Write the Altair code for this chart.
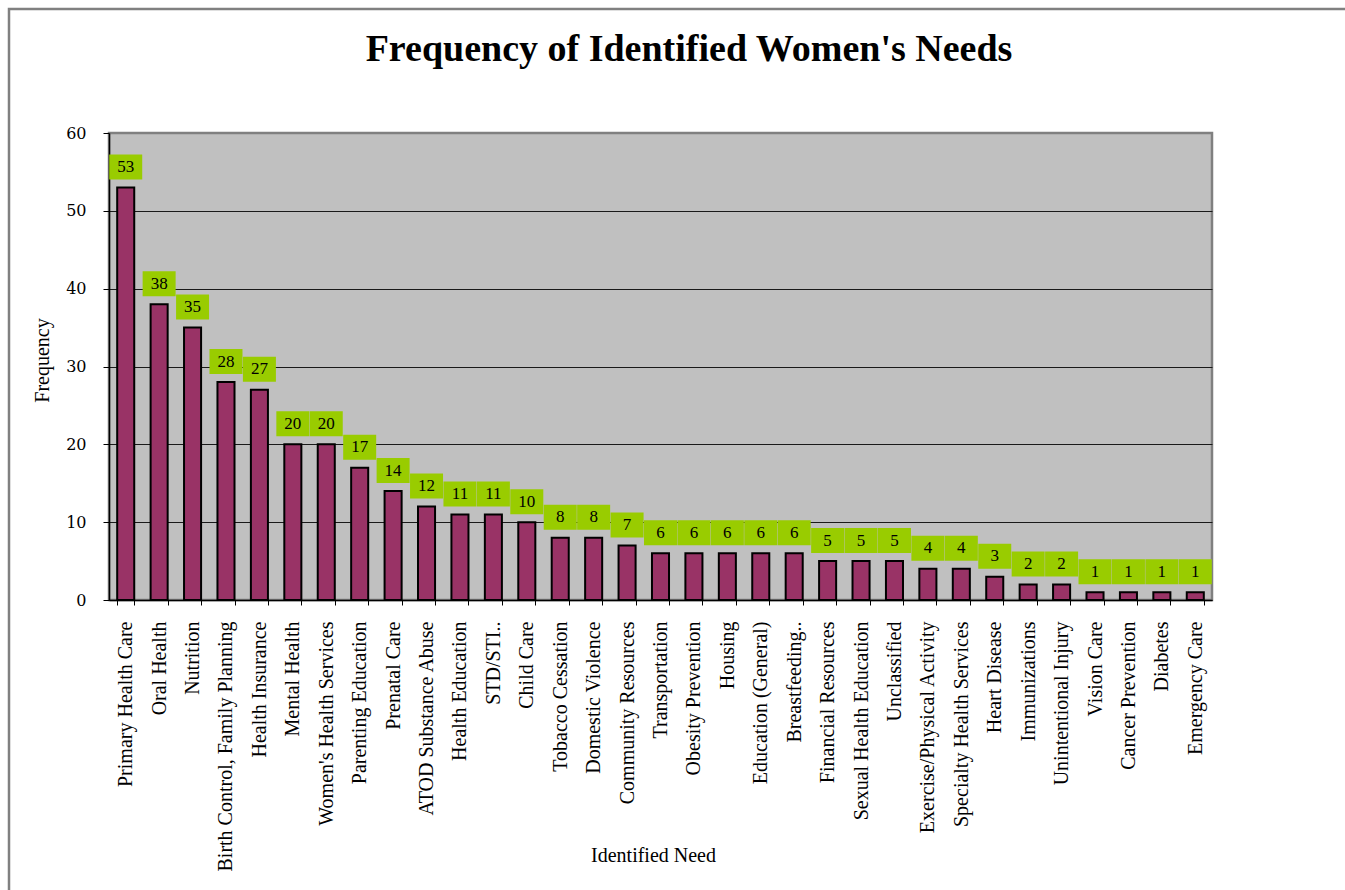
import altair as alt
import pandas as pd

# Identified needs and how often each was reported
needs = [
    "Primary Health Care", "Oral Health", "Nutrition", "Birth Control, Family Planning",
    "Health Insurance", "Mental Health", "Women's Health Services", "Parenting Education",
    "Prenatal Care", "ATOD Substance Abuse", "Health Education", "STD/STI..",
    "Child Care", "Tobacco Cessation", "Domestic Violence", "Community Resources",
    "Transportation", "Obesity Prevention", "Housing", "Education (General)",
    "Breastfeeding..", "Financial Resources", "Sexual Health Education", "Unclassified",
    "Exercise/Physical Activity", "Specialty Health Services", "Heart Disease",
    "Immunizations", "Unintentional Injury", "Vision Care", "Cancer Prevention",
    "Diabetes", "Emergency Care",
]
counts = [53, 38, 35, 28, 27, 20, 20, 17, 14, 12, 11, 11, 10, 8, 8, 7, 6, 6, 6, 6,
          6, 5, 5, 5, 4, 4, 3, 2, 2, 1, 1, 1, 1]
y_ticks = [0, 10, 20, 30, 40, 50, 60]
chart_title = "Frequency of Identified Women's Needs"

FONT = "Liberation Serif"
NUM_FONT = "DejaVu Serif"
W, H = 1103, 467

df = pd.DataFrame({"need": needs, "count": counts})

x_enc = alt.X(
    "need:N",
    sort=None,
    scale=alt.Scale(paddingInner=0.49, paddingOuter=0.245),
    axis=alt.Axis(
        title="Identified Need",
        titleFont=FONT, titleFontSize=20, titleFontWeight="normal", titleColor="black",
        titleX=544, titleY=261, titleAlign="center", titleBaseline="alphabetic",
        labelAngle=-90, labelFont=FONT, labelFontSize=20, labelColor="black",
        labelPadding=16, labelLimit=400,
        tickBand="extent", tickSize=5, tickColor="black", tickWidth=1,
        domainColor="black", domainWidth=1.5, grid=False,
    ),
)
y_scale = alt.Scale(domain=[0, 60], nice=False)

bars = alt.Chart(df).mark_bar(
    color="#993366", stroke="black", strokeWidth=2
).encode(
    x=x_enc,
    y=alt.Y(
        "count:Q",
        scale=y_scale,
        axis=alt.Axis(
            values=y_ticks, title="Frequency",
            titleFont=FONT, titleFontSize=20, titleFontWeight="normal", titleColor="black",
            titleX=-67, titleY=227, titleAngle=-90, titleAlign="center", titleBaseline="middle",
            labelFont=NUM_FONT, labelFontSize=16, labelColor="black", labelPadding=17,
            tickSize=6, tickColor="black", domainColor="black", domainWidth=1.5,
            grid=True, gridWidth=1,
            # the top edge keeps the grey plot border rather than a black gridline
            gridColor=alt.condition("datum.value >= 60", alt.value("#808080"), alt.value("#1a1a1a")),
        ),
    ),
)

# green value boxes floating above each bar
boxes = alt.Chart(df).mark_bar(
    color="#99CC00", size=33, yOffset=-8, y2Offset=-33
).encode(
    x=alt.X("need:N", sort=None),
    y=alt.Y("count:Q", scale=y_scale),
    y2="count:Q",
)

labels = alt.Chart(df).mark_text(
    font=FONT, fontSize=17, color="black", baseline="middle", align="center", dy=-20.5
).encode(
    x=alt.X("need:N", sort=None),
    y=alt.Y("count:Q", scale=y_scale),
    text="count:Q",
)

title_df = pd.DataFrame({"t": [chart_title]})
title = alt.Chart(title_df).mark_text(
    font=FONT, fontSize=38, fontWeight="bold", color="black",
    align="center", baseline="alphabetic",
).encode(x=alt.value(580), y=alt.value(-72), text="t:N")

# light grey outer frame around the whole figure
frame = alt.Chart(title_df).mark_rect(
    fill=None, stroke="#808080", strokeWidth=2.5
).encode(
    x=alt.value(-100), x2=alt.value(1300), y=alt.value(-124), y2=alt.value(820)
)

chart = alt.layer(frame, bars, boxes, labels, title).properties(
    width=W, height=H,
    padding={"left": 109, "top": 133, "right": 133, "bottom": 290},
    autosize="none",
    background="white",
).configure_view(
    fill="#C0C0C0", stroke="#808080", strokeWidth=2.5
)

chart.save("out.html", embed_options={"renderer": "svg", "actions": False})
